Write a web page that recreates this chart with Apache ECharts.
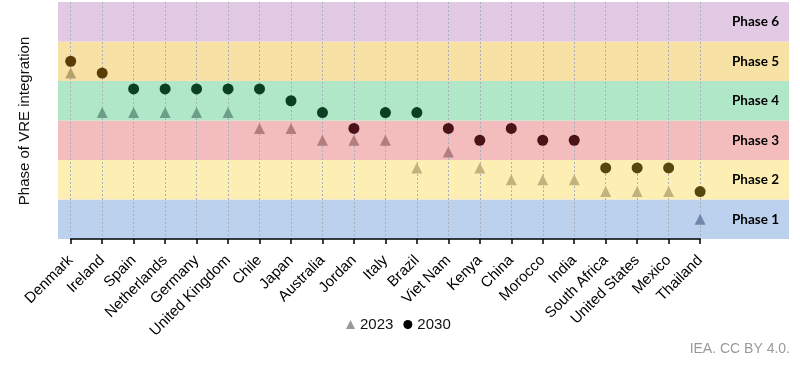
<!DOCTYPE html>
<html>
<head>
<meta charset="utf-8">
<script src="https://cdn.jsdelivr.net/npm/echarts@6/dist/echarts.min.js"></script>
<style>html,body{margin:0;padding:0;background:#fff}#c{width:800px;height:366px}</style>
</head>
<body>
<div id="c"></div>
<script>
const countries = ['Denmark','Ireland','Spain','Netherlands','Germany','United Kingdom','Chile','Japan','Australia','Jordan','Italy','Brazil','Viet Nam','Kenya','China','Morocco','India','South Africa','United States','Mexico','Thailand'];
const values2023 = [4.7, 3.7, 3.7, 3.7, 3.7, 3.7, 3.3, 3.3, 3.0, 3.0, 3.0, 2.3, 2.7, 2.3, 2.0, 2.0, 2.0, 1.7, 1.7, 1.7, 1.0];
const values2030 = [5.0, 4.7, 4.3, 4.3, 4.3, 4.3, 4.3, 4.0, 3.7, 3.3, 3.7, 3.7, 3.3, 3.0, 3.3, 3.0, 3.0, 2.3, 2.3, 2.3, 1.7];
const phases = ['Phase 1','Phase 2','Phase 3','Phase 4','Phase 5','Phase 6'];

const bandColors = ['#bcd1ee','#fdefb3','#f4bdbd','#b1e7c9','#f8e1a4','#e2cae4'];
const circleColors = {1:'#2f3d5a',2:'#56470e',3:'#4b1217',4:'#0c4024',5:'#5a3c06',6:'#4a2f50'};
const triColors = {1:'#7187a8',2:'#c2b27e',3:'#b07d80',4:'#6b9f86',5:'#b4a06c',6:'#a08aa8'};

const chart = echarts.init(document.getElementById('c'));

const bandData = phases.map((p, i) => [
  {yAxis: i + 0.5, name: p, itemStyle: {color: bandColors[i], opacity: 1}},
  {yAxis: i + 1.5}
]);

const d2023 = values2023.map((v, i) => ({value: [i, v], itemStyle: {color: triColors[Math.round(v)], opacity: 1}}));
const d2030 = values2030.map((v, i) => ({value: [i, v], itemStyle: {color: circleColors[Math.round(v)], opacity: 1}}));

const GRID_TOP = 2, GRID_H = 237;
const x0 = 70.7, step = 31.47;

chart.setOption({
  animation: false,
  grid: [
    {left: 58, right: 11, top: GRID_TOP, height: GRID_H},
    {left: x0, width: step * (countries.length - 1), top: GRID_TOP, height: GRID_H}
  ],
  xAxis: [
    {gridIndex: 0, type: 'value', min: -(x0 - 58) / step, max: (789 - x0) / step, show: false},
    {gridIndex: 1, type: 'category', data: countries, boundaryGap: false, z: 2,
     axisLine: {show: true, lineStyle: {color: '#000', width: 1.5}},
     axisTick: {show: true, alignWithLabel: true, length: 5, lineStyle: {color: '#000', width: 1.5}},
     axisLabel: {rotate: 45, interval: 0, fontSize: 15, color: '#000', fontFamily: 'Liberation Sans', margin: 19},
     splitLine: {show: true, lineStyle: {color: '#aab0ba', type: [2, 2], width: 1}}
    }
  ],
  yAxis: [
    {gridIndex: 0, type: 'value', min: 0.5, max: 6.5, show: false},
    {gridIndex: 1, type: 'value', min: 0.5, max: 6.5, show: false}
  ],
  legend: {
    left: 341, top: 312,
    itemWidth: 9, itemHeight: 9, itemGap: 10,
    textStyle: {fontSize: 15, color: '#111', fontFamily: 'Liberation Sans'},
    data: [
      {name: '2023', icon: 'triangle', itemStyle: {color: '#999999', opacity: 1}},
      {name: '2030', icon: 'circle', itemStyle: {color: '#000000', opacity: 1}}
    ]
  },
  graphic: [
    {type: 'text', x: 25, y: 121, rotation: Math.PI / 2,
     style: {text: 'Phase of VRE integration', fontSize: 15, fill: '#111', fontFamily: 'Liberation Sans', align: 'center', verticalAlign: 'middle'}},
    {type: 'text', right: 10, top: 342,
     style: {text: 'IEA. CC BY 4.0.', fontSize: 14, fill: '#9a9a9a', fontFamily: 'Liberation Sans'}}
  ],
  series: [
    {type: 'scatter', xAxisIndex: 0, yAxisIndex: 0, data: [], z: 1, silent: true,
     markArea: {silent: true,
       label: {show: true, position: 'insideRight', distance: 10, fontSize: 13.5, fontWeight: 'bold', color: '#000', fontFamily: 'Lato'},
       data: bandData}
    },
    {name: '2023', type: 'scatter', xAxisIndex: 1, yAxisIndex: 1, symbol: 'triangle', symbolSize: 11, z: 4, itemStyle: {opacity: 1}, data: d2023},
    {name: '2030', type: 'scatter', xAxisIndex: 1, yAxisIndex: 1, symbol: 'circle', symbolSize: 11, z: 5, itemStyle: {opacity: 1}, data: d2030}
  ]
});
</script>
</body>
</html>
